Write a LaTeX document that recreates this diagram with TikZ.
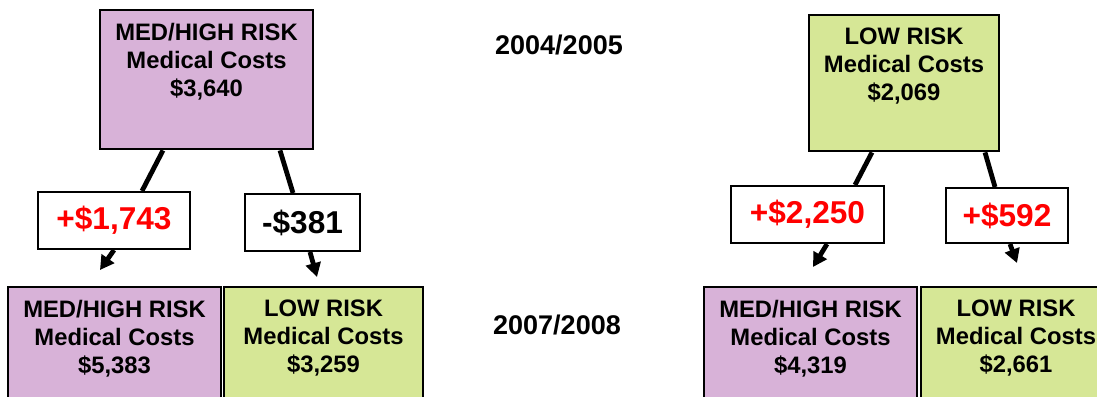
\documentclass[tikz,border=0pt]{standalone}
\usepackage{fontspec}
\setmainfont{Liberation Sans}
\usepackage{tikz}
\usetikzlibrary{arrows.meta}

\definecolor{medpurple}{RGB}{216,178,216}
\definecolor{lowgreen}{RGB}{214,231,150}

\begin{document}
\begin{tikzpicture}[x=0.5pt, y=-0.5pt,
    riskbox/.style={draw=black, line width=1.4pt, inner sep=0pt, minimum height=69.5pt},
    risktext/.style={anchor=north, align=center, inner sep=0pt, font=\fontsize{11.9}{14}\selectfont\bfseries},
    chgbox/.style={draw=black, fill=white, line width=1pt, inner sep=0pt, minimum height=28.5pt, font=\fontsize{15.8}{18}\selectfont\bfseries},
    link/.style={line width=2.4pt},
    linkarrow/.style={line width=2.4pt, -{Triangle[length=7pt, width=7.5pt]}},
    yeartext/.style={font=\fontsize{13.5}{16}\selectfont\bfseries}]
    \useasboundingbox (0, 0) rectangle (1097, 396);
    \clip (0, 0) rectangle (1097, 396);

    % draw 2004/2005 boxes
    \node[riskbox, fill=medpurple, minimum width=106.5pt] (medOld) at (206.5, 79.5) {};
    \node[risktext] (medOldTxt) at ([yshift=-7pt]medOld.north) {MED/HIGH RISK\\Medical Costs\\\$3,640};
    \node[riskbox, fill=lowgreen, minimum width=95pt, minimum height=68pt] (lowOld) at (904, 83) {};
    \node[risktext] (lowOldTxt) at ([yshift=-7pt]lowOld.north) {LOW RISK\\Medical Costs\\\$2,069};

    % draw 2007/2008 boxes
    \node[riskbox, fill=medpurple, minimum width=106.5pt] (medMed) at (114.5, 356.5) {};
    \node[risktext] (medMedTxt) at ([yshift=-7pt]medMed.north) {MED/HIGH RISK\\Medical Costs\\\$5,383};
    \node[riskbox, fill=lowgreen, minimum width=99.5pt] (medLow) at (323.5, 356.5) {};
    \node[risktext] (medLowTxt) at ([yshift=-7pt]medLow.north) {LOW RISK\\Medical Costs\\\$3,259};
    \node[riskbox, fill=medpurple, minimum width=106.5pt] (lowMed) at (810.5, 356.5) {};
    \node[risktext] (lowMedTxt) at ([yshift=-7pt]lowMed.north) {MED/HIGH RISK\\Medical Costs\\\$4,319};
    \node[riskbox, fill=lowgreen, minimum width=95pt] (lowLow) at (1016, 356.5) {};
    \node[risktext] (lowLowTxt) at ([yshift=-7pt]lowLow.north) {LOW RISK\\Medical Costs\\\$2,661};

    % draw year labels
    \node[yeartext] (yrOld) at (559, 45) {2004/2005};
    \node[yeartext] (yrNew) at (557, 325) {2007/2008};

    % draw change boxes
    \node[chgbox, text=red, minimum width=76pt] (chgMedMed) at (114, 220.5) {+\$1,743};
    \node[chgbox, minimum width=57.5pt] (chgMedLow) at (302.5, 222.5) {-\$381};
    \node[chgbox, text=red, minimum width=76.5pt] (chgLowMed) at (807.5, 214.5) {+\$2,250};
    \node[chgbox, text=red, minimum width=61pt, minimum height=27.5pt] (chgLowLow) at (1007, 215.5) {+\$592};

    % arrow ends
    \coordinate (endMedMed) at (100, 270);
    \coordinate (endMedLow) at (317, 277);
    \coordinate (endLowMed) at (813, 267);
    \coordinate (endLowLow) at (1017, 263);

    % draw links
    \draw[link] ([xshift=-21.75pt]medOld.south) -- ([xshift=14pt]chgMedMed.north);
    \draw[link] ([xshift=36.75pt]medOld.south) -- ([xshift=-4.75pt]chgMedLow.north);
    \draw[link] ([xshift=-16pt]lowOld.south) -- ([xshift=23.75pt]chgLowMed.north);
    \draw[link] ([xshift=40.5pt]lowOld.south) -- ([xshift=-6pt]chgLowLow.north);

    % draw arrows
    \draw[linkarrow] (chgMedMed.south) -- (endMedMed);
    \draw[linkarrow] ([xshift=3.75pt]chgMedLow.south) -- (endMedLow);
    \draw[linkarrow] ([xshift=9.75pt]chgLowMed.south) -- (endLowMed);
    \draw[linkarrow] ([xshift=1.5pt]chgLowLow.south) -- (endLowLow);

\end{tikzpicture}
\end{document}
